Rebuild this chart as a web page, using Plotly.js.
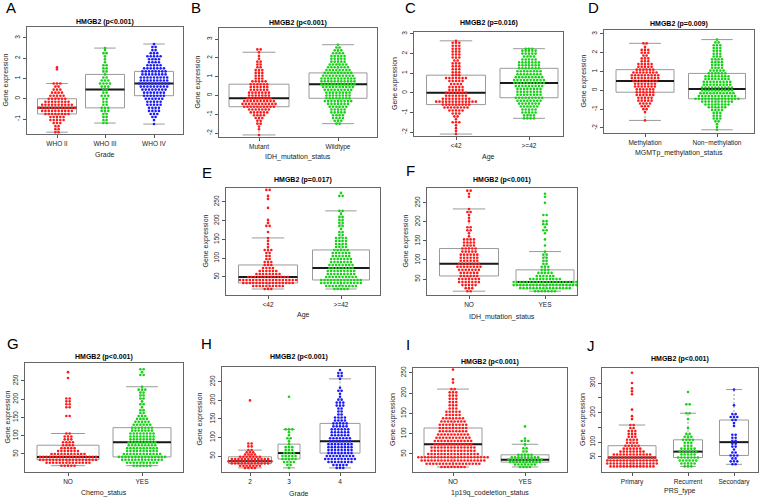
<!DOCTYPE html>
<html><head><meta charset="utf-8">
<script src="https://cdn.plot.ly/plotly-3.0.1.min.js"></script>
<style>body{margin:0;background:#fff}#chart{width:759px;height:497px}</style>
</head><body><div id="chart"></div>
<script>
// ---------- DATA: each group = [value, number of points at that value] ----------
const A_groups = ["WHO II", "WHO III", "WHO IV"];
const A_WHOII = [[-1.65,2],[-1.5,2],[-1.35,2],[-1.2,3],[-1.05,5],[-0.9,5],[-0.75,8],[-0.6,10],[-0.45,12],[-0.3,10],[-0.15,8],[0,6],[0.15,5],[0.3,4],[0.45,3],[0.6,2],[0.75,3],[1.45,1],[1.55,1]];
const A_WHOIII = [[-1.2,2],[-1.05,2],[-0.9,2],[-0.75,2],[-0.6,3],[-0.45,3],[-0.3,2],[-0.15,2],[0,2],[0.15,3],[0.3,2],[0.45,2],[0.6,3],[0.75,4],[0.9,3],[1.05,2],[1.2,1],[1.35,2],[1.5,2],[1.65,2],[1.8,1],[1.95,1],[2.1,1],[2.25,2],[2.4,1],[2.5,1]];
const A_WHOIV = [[-1.25,1],[-1.05,1],[-0.9,2],[-0.75,3],[-0.6,4],[-0.45,4],[-0.3,5],[-0.15,5],[0,6],[0.15,7],[0.3,7],[0.45,8],[0.6,9],[0.75,10],[0.9,9],[1.05,9],[1.2,8],[1.35,8],[1.5,7],[1.65,5],[1.8,4],[1.95,4],[2.1,5],[2.25,3],[2.4,2],[2.55,2],[2.7,1]];

const B_groups = ["Mutant", "Wildtype"];
const B_Mutant = [[-2.1,1],[-1.8,1],[-1.65,1],[-1.5,2],[-1.35,2],[-1.2,3],[-1.05,4],[-0.9,6],[-0.75,7],[-0.6,10],[-0.45,11],[-0.3,10],[-0.15,8],[0,7],[0.15,7],[0.3,6],[0.45,6],[0.6,6],[0.75,5],[0.9,3],[1.05,3],[1.2,3],[1.35,3],[1.5,2],[1.65,2],[1.8,2],[1.95,1],[2.1,1],[2.3,1],[2.45,2]];
const B_Wildtype = [[-1.5,2],[-1.35,3],[-1.2,4],[-1.05,4],[-0.9,5],[-0.75,5],[-0.6,6],[-0.45,7],[-0.3,9],[-0.15,8],[0,8],[0.15,8],[0.3,9],[0.45,10],[0.6,11],[0.75,11],[0.9,11],[1.05,10],[1.2,9],[1.35,8],[1.5,7],[1.65,6],[1.8,5],[1.95,5],[2.1,5],[2.25,4],[2.4,3],[2.55,2],[2.7,1]];

const C_groups = ["<42", ">=42"];
const C_lt42 = [[-2.1,1],[-1.95,1],[-1.8,1],[-1.65,1],[-1.5,3],[-1.35,1],[-1.2,2],[-1.05,3],[-0.9,5],[-0.75,8],[-0.6,9],[-0.45,13],[-0.3,9],[-0.15,7],[0,7],[0.15,5],[0.3,5],[0.45,4],[0.6,5],[0.75,7],[0.9,3],[1.05,3],[1.2,3],[1.35,3],[1.5,3],[1.65,2],[1.8,3],[1.95,3],[2.1,3],[2.25,3],[2.4,3],[2.55,3],[2.65,1]];
const C_ge42 = [[-1.3,4],[-1.15,4],[-1.0,5],[-0.85,5],[-0.7,6],[-0.55,7],[-0.4,8],[-0.25,9],[-0.1,8],[0.05,8],[0.2,8],[0.35,9],[0.5,10],[0.65,10],[0.8,9],[0.95,8],[1.1,8],[1.25,7],[1.4,7],[1.55,7],[1.7,5],[1.85,4],[2.0,5],[2.15,5],[2.25,3]];

const D_groups = ["Methylation", "Non\u2212methylation"];
const D_Meth = [[-1.6,1],[-1.15,1],[-1.0,2],[-0.85,3],[-0.7,4],[-0.55,5],[-0.4,5],[-0.25,6],[-0.1,6],[0.05,6],[0.2,7],[0.35,7],[0.5,8],[0.65,9],[0.8,9],[0.95,8],[1.1,6],[1.25,5],[1.4,5],[1.55,3],[1.7,3],[1.85,2],[2.0,3],[2.15,3],[2.3,1],[2.5,2]];
const D_NonMeth = [[-2.1,1],[-1.95,1],[-1.8,1],[-1.65,2],[-1.5,3],[-1.35,3],[-1.2,3],[-1.05,4],[-0.9,6],[-0.75,8],[-0.6,10],[-0.45,14],[-0.3,12],[-0.15,11],[0,10],[0.15,10],[0.3,9],[0.45,9],[0.6,8],[0.75,8],[0.9,6],[1.05,5],[1.2,4],[1.35,4],[1.5,4],[1.65,4],[1.8,3],[1.95,3],[2.1,3],[2.25,3],[2.4,3],[2.55,2],[2.7,1]];

const E_groups = ["<42", ">=42"];
const E_lt42 = [[18,3],[26,10],[34,16],[42,18],[50,13],[58,8],[66,6],[74,4],[82,3],[90,3],[98,2],[106,2],[114,2],[122,3],[130,1],[138,1],[146,1],[154,1],[170,1],[186,2],[194,1],[202,1],[234,1],[258,1],[266,1],[282,2]];
const E_ge42 = [[18,5],[26,10],[34,13],[42,13],[50,10],[58,9],[66,9],[74,8],[82,8],[90,7],[98,7],[106,6],[114,6],[122,5],[130,4],[138,4],[146,4],[154,4],[162,2],[170,2],[178,1],[186,2],[194,2],[202,2],[210,2],[218,1],[226,2],[266,2],[274,1]];

const F_groups = ["NO", "YES"];
const F_NO = [[18,2],[26,3],[34,5],[42,7],[50,7],[58,6],[66,6],[74,7],[82,8],[90,7],[98,6],[106,6],[114,6],[122,5],[130,5],[138,4],[146,4],[154,4],[162,1],[170,1],[178,2],[186,2],[202,1],[210,1],[218,1],[226,2],[234,1],[266,1],[274,1],[282,2]];
const F_YES = [[18,7],[26,16],[34,20],[42,20],[50,10],[58,6],[66,5],[74,3],[82,3],[90,2],[98,2],[106,2],[114,2],[122,1],[138,1],[154,1],[170,1],[178,2],[186,1],[194,2],[202,2],[218,2],[250,1],[266,1],[274,1]];

const G_groups = ["NO", "YES"];
const G_NO = [[18,5],[26,14],[34,18],[42,18],[50,11],[58,7],[66,5],[74,4],[82,4],[90,3],[98,3],[106,2],[154,2],[178,2],[186,2],[194,2],[202,2],[258,1],[274,1]];
const G_YES = [[18,6],[26,10],[34,13],[42,15],[50,12],[58,10],[66,10],[74,9],[82,9],[90,8],[98,8],[106,8],[114,7],[122,7],[130,6],[138,5],[146,4],[154,3],[162,2],[170,2],[178,1],[186,2],[194,1],[202,2],[210,2],[218,2],[226,3],[234,1],[266,2],[274,1],[282,2]];

const H_groups = ["2", "3", "4"];
const H_2 = [[18,4],[24,7],[30,12],[36,14],[42,12],[48,7],[54,4],[60,3],[66,2],[76,2],[84,2],[200,1]];
const H_3 = [[18,1],[26,2],[34,4],[42,5],[50,5],[58,4],[66,3],[74,3],[82,1],[90,1],[98,2],[106,1],[114,1],[122,3],[210,1]];
const H_4 = [[18,3],[26,5],[34,8],[42,10],[50,9],[58,8],[66,8],[74,8],[82,8],[90,7],[98,7],[106,6],[114,6],[122,6],[130,5],[138,5],[146,4],[154,4],[162,2],[170,2],[178,2],[186,3],[194,3],[202,2],[210,1],[218,1],[226,2],[234,1],[258,1],[266,2],[274,2],[282,1]];

const I_groups = ["NO", "YES"];
const I_NO = [[18,8],[26,17],[34,20],[42,22],[50,16],[58,14],[66,14],[74,12],[82,12],[90,11],[98,10],[106,9],[114,9],[122,9],[130,8],[138,7],[146,5],[154,5],[162,3],[170,3],[178,3],[186,3],[194,3],[202,3],[210,2],[226,1],[234,1],[258,1]];
const I_YES = [[18,4],[24,7],[30,10],[36,11],[42,9],[48,5],[56,2],[64,2],[74,1],[82,3],[88,1],[118,1]];

const J_groups = ["Primary", "Recurrent", "Secondary"];
const J_Primary = [[18,14],[28,16],[38,16],[48,15],[58,12],[68,8],[78,6],[88,5],[98,4],[108,4],[118,3],[128,3],[138,3],[148,2],[158,2],[178,1],[188,1],[210,1],[262,1],[272,1],[282,1],[300,1],[335,1]];
const J_Recurrent = [[18,3],[28,5],[38,6],[48,7],[58,5],[68,6],[78,5],[88,3],[98,3],[108,4],[118,3],[128,2],[148,1],[178,1],[198,2],[228,2],[270,1]];
const J_Secondary = [[25,2],[35,3],[45,2],[55,3],[65,2],[75,1],[85,2],[95,2],[105,2],[115,2],[125,2],[155,1],[165,1],[175,2],[185,3],[195,2],[225,1],[278,1]];

const titles = ["HMGB2 (p<0.001)","HMGB2 (p<0.001)","HMGB2 (p=0.016)","HMGB2 (p=0.009)","HMGB2 (p=0.017)","HMGB2 (p<0.001)","HMGB2 (p<0.001)","HMGB2 (p<0.001)","HMGB2 (p<0.001)","HMGB2 (p<0.001)"];
const xLabels = ["Grade","IDH_mutation_status","Age","MGMTp_methylation_status","Age","IDH_mutation_status","Chemo_status","Grade","1p19q_codeletion_status","PRS_type"];
const letters = ["A","B","C","D","E","F","G","H","I","J"];
const yLabel = "Gene expression";
const yTicksSmall = [-2,-1,0,1,2,3];
const yTicksLarge = [50,100,150,200,250];
const yTicksJ = [50,100,150,200,250,300];
const yTickTextJ = ["50","100","","200","","300"];

// ---------- LAYOUT / STYLE (pixels) ----------
const RED="#ff1a1a", GREEN="#16d116", BLUE="#1a1aff", BOXC="#9a9a9a";
const panels = [
 {groups:A_groups, data:[A_WHOII,A_WHOIII,A_WHOIV], col:[RED,GREEN,BLUE], l:27,r:183,t:27,b:134, cx:[57,105,154], w:[39,39,39], yr:[-1.74,3.54], yt:[-1,0,1,2,3], L:[11,8], T:22, XL:155, YL:5},
 {groups:B_groups, data:[B_Mutant,B_Wildtype], col:[RED,GREEN], l:219,r:377,t:28,b:137, cx:[259,338], w:[60,58], yr:[-2.21,3.59], yt:yTicksSmall, L:[196,8], T:23, XL:157, YL:197},
 {groups:C_groups, data:[C_lt42,C_ge42], col:[RED,GREEN], l:414,r:563,t:32,b:136, cx:[456,529], w:[59,58], yr:[-2.2,3.1], yt:yTicksSmall, L:[410,8], T:23, XL:157, YL:395},
 {groups:D_groups, data:[D_Meth,D_NonMeth], col:[RED,GREEN], l:604,r:754,t:30,b:133, cx:[645,717], w:[58,57], yr:[-2.27,3.21], yt:yTicksSmall, L:[593,8], T:24, XL:153, YL:583},
 {groups:E_groups, data:[E_lt42,E_ge42], col:[RED,GREEN], l:226,r:380,t:188,b:295, cx:[268,341], w:[59,57], yr:[2,287], yt:yTicksLarge, L:[207,173], T:180, XL:315, YL:205},
 {groups:F_groups, data:[F_NO,F_YES], col:[RED,GREEN], l:427,r:577,t:188,b:295, cx:[469,545], w:[59,58], yr:[8,289], yt:yTicksLarge, L:[410,171], T:180, XL:317, YL:405},
 {groups:G_groups, data:[G_NO,G_YES], col:[RED,GREEN], l:25,r:183,t:363,b:472, cx:[68,142], w:[62,58], yr:[0.7,299], yt:yTicksLarge, L:[13,343], T:357, XL:493, YL:7},
 {groups:H_groups, data:[H_2,H_3,H_4], col:[RED,GREEN,BLUE], l:222,r:375,t:367,b:472, cx:[250,289,340], w:[43,22,40], yr:[7,290], yt:yTicksLarge, L:[207,343], T:357, XL:493, YL:199},
 {groups:I_groups, data:[I_NO,I_YES], col:[RED,GREEN], l:413,r:567,t:368,b:472, cx:[453,525], w:[58,48], yr:[5.6,262], yt:yTicksLarge, L:[408,344], T:362, XL:493, YL:393},
 {groups:J_groups, data:[J_Primary,J_Recurrent,J_Secondary], col:[RED,GREEN,BLUE], l:602,r:758,t:368,b:472, cx:[632,688,734], w:[48,29,29], yr:[-1,351], yt:yTicksJ, ytt:yTickTextJ, L:[591,345], T:359, XL:491, YL:583}
];

const W=759, Hh=497, DOT=3.3, MSIZE=2.6, CAP=0.55;
const fx = p => p/W, fy = p => 1 - p/Hh;
const esc = s => s.replace(/</g,"&lt;").replace(/>/g,"&gt;");

function expand(rows){ const v=[]; rows.forEach(([y,k])=>{ for(let i=0;i<k;i++) v.push(y); }); return v; }
function boxStats(vals){
  const s = vals.slice().sort((a,b)=>a-b), n = s.length;
  const n4 = Math.floor((n+3)/2)/2;
  const d = [1, n4, (n+1)/2, n+1-n4, n];
  const f = d.map(di => 0.5*(s[Math.floor(di)-1] + s[Math.ceil(di)-1]));
  const iqr = f[3]-f[1], lo = f[1]-1.5*iqr, hi = f[3]+1.5*iqr;
  const inn = s.filter(v => v>=lo && v<=hi);
  return {q1:f[1], med:f[2], q3:f[3], lf:inn[0], uf:inn[inn.length-1]};
}

const traces = [], annotations = [];
const layout = {width:W, height:Hh, margin:{l:0,r:0,t:0,b:0}, paper_bgcolor:"#fff", plot_bgcolor:"#fff",
  showlegend:false, font:{family:"Liberation Sans, Arial, sans-serif", color:"#111"}, annotations};

panels.forEach((p, i) => {
  const s = i===0 ? "" : String(i+1);
  const xa = "x"+s, ya = "y"+s;
  const span = p.r - p.l;
  const pos = p.cx.map(c => (c - p.l)/span);
  const dx = DOT/span;
  p.data.forEach((rows, g) => {
    const vals = expand(rows);
    const st = boxStats(vals);
    const wd = p.w[g]/span, cw = wd*CAP, c = pos[g];
    // box body (whiskers drawn separately, R style)
    traces.push({type:"box", xaxis:xa, yaxis:ya, x:[c], q1:[st.q1], median:[st.med], q3:[st.q3],
      lowerfence:[st.q1], upperfence:[st.q3], width:wd, whiskerwidth:0, boxpoints:false,
      line:{color:BOXC, width:1}, fillcolor:"rgba(255,255,255,0)", hoverinfo:"skip"});
    // dashed whiskers
    traces.push({type:"scatter", mode:"lines", xaxis:xa, yaxis:ya, x:[c,c,null,c,c], y:[st.q3,st.uf,null,st.q1,st.lf],
      line:{color:BOXC, width:1, dash:"2px,2px"}, hoverinfo:"skip"});
    // staples
    traces.push({type:"scatter", mode:"lines", xaxis:xa, yaxis:ya, x:[c-cw/2,c+cw/2,null,c-cw/2,c+cw/2], y:[st.uf,st.uf,null,st.lf,st.lf],
      line:{color:BOXC, width:1}, hoverinfo:"skip"});
    // median
    traces.push({type:"scatter", mode:"lines", xaxis:xa, yaxis:ya, x:[c-wd/2, c+wd/2], y:[st.med, st.med],
      line:{color:"#1a1a1a", width:2}, hoverinfo:"skip"});
    // beeswarm points
    const xs = [], ys = [];
    rows.forEach(([y,k]) => { for(let j=0;j<k;j++){ xs.push(c + (j-(k-1)/2)*dx); ys.push(y); } });
    traces.push({type:"scatter", mode:"markers", xaxis:xa, yaxis:ya, x:xs, y:ys,
      marker:{color:p.col[g], size:MSIZE, line:{width:0}}, hoverinfo:"skip"});
  });
  layout["xaxis"+s] = {domain:[fx(p.l), fx(p.r)], range:[0,1], anchor:ya, tickvals:pos, ticktext:p.groups.map(esc),
    ticks:"outside", ticklen:3, tickcolor:"#555", showline:true, mirror:true, linecolor:"#666", linewidth:1,
    showgrid:false, zeroline:false, tickfont:{size:6.5, color:"#222"}, fixedrange:true};
  layout["yaxis"+s] = {domain:[fy(p.b), fy(p.t)], range:p.yr, anchor:xa, tickvals:p.yt,
    ticktext:p.ytt ? p.ytt : p.yt.map(v => String(v)), tickangle:-90,
    ticks:"outside", ticklen:3, tickcolor:"#555", showline:true, mirror:true, linecolor:"#666", linewidth:1,
    showgrid:false, zeroline:false, tickfont:{size:6.5, color:"#222"}, fixedrange:true};
  const mid = (p.l+p.r)/2;
  annotations.push({xref:"paper", yref:"paper", x:fx(p.L[0]), y:fy(p.L[1]), text:letters[i], showarrow:false,
    xanchor:"center", yanchor:"middle", font:{size:15, color:"#000"}});
  annotations.push({xref:"paper", yref:"paper", x:fx(mid), y:fy(p.T), text:esc(titles[i]), showarrow:false,
    xanchor:"center", yanchor:"middle", font:{size:7, weight:"bold", color:"#000"}});
  annotations.push({xref:"paper", yref:"paper", x:fx(mid), y:fy(p.XL), text:xLabels[i], showarrow:false,
    xanchor:"center", yanchor:"middle", font:{size:7, color:"#222"}});
  annotations.push({xref:"paper", yref:"paper", x:fx(p.YL), y:fy((p.t+p.b)/2), text:yLabel, showarrow:false,
    textangle:-90, xanchor:"center", yanchor:"middle", font:{size:7, color:"#222"}});
});

Plotly.newPlot("chart", traces, layout, {staticPlot:true, displayModeBar:false});
</script></body></html>
